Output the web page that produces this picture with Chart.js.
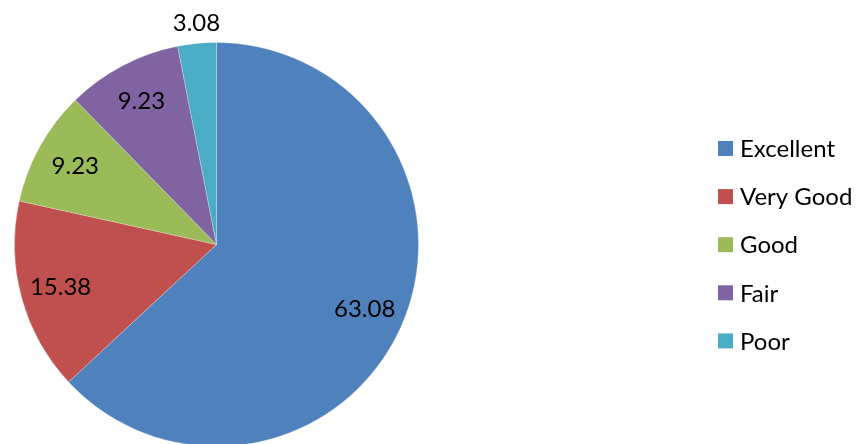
<!DOCTYPE html>
<html>
<head>
<meta charset="utf-8">
<script src="https://cdn.jsdelivr.net/npm/chart.js@4"></script>
<style>
  html, body { margin: 0; padding: 0; background: #fff; overflow: hidden; }
  #wrap { width: 858px; height: 460px; position: relative; }
</style>
</head>
<body>
<div id="wrap"><canvas id="pieChart"></canvas></div>
<script>
// --- Data ---
const categories = ['Excellent', 'Very Good', 'Good', 'Fair', 'Poor'];
const values = [63.08, 15.38, 9.23, 9.23, 3.08];
const colors = ['#4F81BD', '#C0504D', '#9BBB59', '#8064A2', '#4BACC6'];

const FONT = "Lato, 'Open Sans', sans-serif";

// Value labels: inside at ~0.8R, tiny slices go outside
const valueLabels = {
    id: 'valueLabels',
    afterDatasetsDraw(chart) {
        const ctx = chart.ctx;
        const meta = chart.getDatasetMeta(0);
        const total = values.reduce((a, b) => a + b, 0);
        ctx.save();
        ctx.font = '24px ' + FONT;
        ctx.fillStyle = '#000';
        ctx.textAlign = 'center';
        ctx.textBaseline = 'middle';
        meta.data.forEach((arc, i) => {
            const mid = (arc.startAngle + arc.endAngle) / 2;
            const small = values[i] / total < 0.05;
            const r = small ? arc.outerRadius + 20 : arc.outerRadius * 0.8;
            let x = arc.x + Math.cos(mid) * r;
            let y = arc.y + Math.sin(mid) * r;
            if (small) x = arc.x - 20;
            ctx.fillText(values[i].toFixed(2), x, y);
        });
        ctx.restore();
    }
};

// Legend on the right
const sideLegend = {
    id: 'sideLegend',
    afterDraw(chart) {
        const ctx = chart.ctx;
        const x0 = 718, y0 = 148.5, gap = 48.1, box = 15;
        ctx.save();
        ctx.font = '24px ' + FONT;
        ctx.textBaseline = 'middle';
        categories.forEach((name, i) => {
            const y = y0 + i * gap;
            ctx.fillStyle = colors[i];
            ctx.fillRect(x0, y - box / 2, box, box);
            ctx.fillStyle = '#000';
            ctx.fillText(name, x0 + 22, y + 1);
        });
        ctx.restore();
    }
};

new Chart(document.getElementById('pieChart'), {
    type: 'pie',
    data: {
        labels: categories,
        datasets: [{
            data: values,
            backgroundColor: colors,
            borderColor: 'rgba(255,255,255,0.5)',
            borderWidth: 0.5,
            radius: 202
        }]
    },
    options: {
        responsive: true,
        maintainAspectRatio: false,
        animation: false,
        layout: { padding: { left: 13, right: 438, top: 42, bottom: 13 } },
        plugins: {
            legend: { display: false },
            tooltip: { enabled: false }
        }
    },
    plugins: [valueLabels, sideLegend]
});
</script>
</body>
</html>
